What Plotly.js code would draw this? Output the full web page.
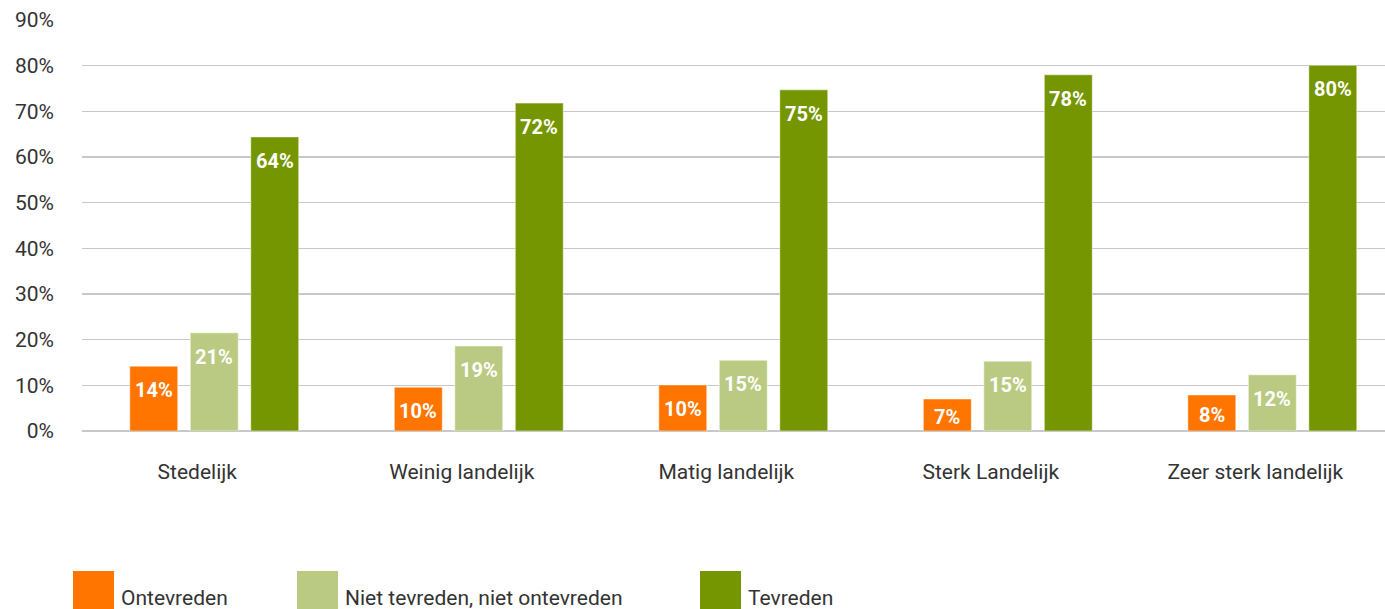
<!DOCTYPE html>
<html>
<head>
<meta charset="utf-8">
<script src="https://cdn.plot.ly/plotly-3.0.1.min.js"></script>
<style>
  html, body { margin: 0; padding: 0; background: #fff; overflow: hidden; }
  #chart { width: 1385px; height: 609px; }
</style>
</head>
<body>
<div id="chart"></div>
<script>
// ---- Data ----
const categories = ["Stedelijk", "Weinig landelijk", "Matig landelijk", "Sterk Landelijk", "Zeer sterk landelijk"];
const seriesNames = ["Ontevreden", "Niet tevreden, niet ontevreden", "Tevreden"];
const ontevreden = [14.2, 9.6, 10.1, 7.0, 7.9];
const neutraal = [21.5, 18.6, 15.5, 15.3, 12.3];
const tevreden = [64.4, 71.8, 74.7, 78.0, 80.1];
const ontevredenLabels = ["14%", "10%", "10%", "7%", "8%"];
const neutraalLabels = ["21%", "19%", "15%", "15%", "12%"];
const tevredenLabels = ["64%", "72%", "75%", "78%", "80%"];
const yTickVals = [0, 10, 20, 30, 40, 50, 60, 70, 80, 90];
const yTickText = ["0%", "10%", "20%", "30%", "40%", "50%", "60%", "70%", "80%", "90%"];

// ---- Style ----
const colors = ["#FF7500", "#BACA82", "#759600"];
const font = "Roboto, 'Noto Sans', sans-serif";
const textColor = "#333333";
const bargap = 0.314;
const bargroupgap = 0.207;
const yMax = 90;

const values = [ontevreden, neutraal, tevreden];
const labels = [ontevredenLabels, neutraalLabels, tevredenLabels];

const traces = values.map((v, j) => ({
  type: "bar",
  name: seriesNames[j],
  x: categories,
  y: v,
  marker: { color: colors[j], line: { color: "#ffffff", width: 0.5 } },
  hoverinfo: "x+y",
  showlegend: false
}));

const plotLeft = 82, plotWidth = 1303, plotBottom = 431, plotHeight = 411;

// bar value labels, positioned through the axis scales
const annotations = [];
const slot = (1 - bargap) / 3;
values.forEach((v, j) => {
  v.forEach((val, i) => {
    const hPx = val * plotHeight / yMax;
    annotations.push({
      xref: "x", yref: "y",
      x: i + (j - 1) * slot,
      y: val,
      text: "<b>" + labels[j][i] + "</b>",
      showarrow: false,
      yanchor: "middle",
      xanchor: "center",
      yshift: -Math.min(24, hPx * 0.56),
      font: { family: font, size: 20, color: "#ffffff" }
    });
  });
});

// custom legend (large squares) at the bottom
const px = p => (p - plotLeft) / plotWidth;
const py = p => (plotBottom - p) / plotHeight;
const legendX = [73, 297, 700];
const shapes = [];
seriesNames.forEach((name, j) => {
  shapes.push({
    type: "rect", xref: "paper", yref: "paper",
    x0: px(legendX[j]), x1: px(legendX[j] + 41),
    y0: py(571), y1: py(615),
    fillcolor: colors[j], line: { width: 0 }
  });
  annotations.push({
    xref: "paper", yref: "paper",
    x: px(legendX[j] + 46), y: py(598),
    xanchor: "left", yanchor: "middle",
    text: name, showarrow: false,
    font: { family: font, size: 21, color: textColor }
  });
});

const layout = {
  width: 1385,
  height: 609,
  margin: { l: plotLeft, r: 0, t: 20, b: 178 },
  paper_bgcolor: "#ffffff",
  plot_bgcolor: "#ffffff",
  barmode: "group",
  bargap: bargap,
  bargroupgap: bargroupgap,
  font: { family: font, color: textColor },
  showlegend: false,
  xaxis: {
    type: "category",
    range: [-0.5, 4.426],
    showgrid: false,
    showline: false,
    ticks: "",
    ticklabelstandoff: 26,
    ticklabelshift: -17,
    tickfont: { family: font, size: 21, color: textColor }
  },
  yaxis: {
    range: [0, yMax],
    tickvals: yTickVals,
    ticktext: yTickText,
    showgrid: true,
    gridcolor: "#c8c8c8",
    gridwidth: 1.5,
    zeroline: true,
    zerolinecolor: "#c8c8c8",
    zerolinewidth: 1.5,
    showline: false,
    ticks: "",
    ticklabelstandoff: 27,
    tickfont: { family: font, size: 21, color: textColor }
  },
  shapes: shapes,
  annotations: annotations
};

Plotly.newPlot("chart", traces, layout, { displayModeBar: false, staticPlot: true });
</script>
</body>
</html>
